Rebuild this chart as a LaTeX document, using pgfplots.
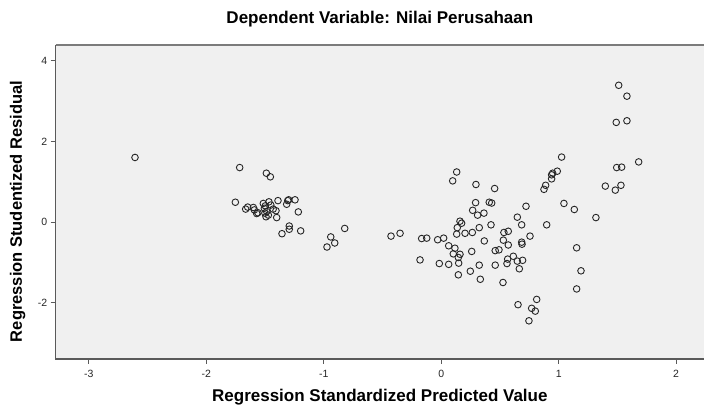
\documentclass[border=0pt]{standalone}
\usepackage{fontspec}
\setmainfont{Liberation Sans}
\usepackage{pgfplots}
\pgfplotsset{compat=1.18}
\definecolor{bg}{HTML}{F0F0F0}
\definecolor{frame}{HTML}{5A5A5A}
\pgfplotstableread{
x y
-2.606 1.60
-1.715 1.35
-1.488 1.21
-1.454 1.12
-1.752 0.49
-1.664 0.32
-1.647 0.37
-1.599 0.36
-1.590 0.30
-1.570 0.21
-1.560 0.23
-1.514 0.46
-1.497 0.40
-1.505 0.34
-1.466 0.50
-1.485 0.26
-1.471 0.17
-1.491 0.13
-1.500 0.22
-1.450 0.42
-1.430 0.32
-1.406 0.28
-1.400 0.11
-1.389 0.53
-1.306 0.53
-1.298 0.55
-1.315 0.44
-1.244 0.55
-1.216 0.25
-1.293 -0.10
-1.293 -0.18
-1.355 -0.29
-1.196 -0.22
-0.821 -0.16
-0.940 -0.37
-0.906 -0.52
-0.972 -0.62
-0.427 -0.35
-0.350 -0.28
0.132 1.24
0.098 1.02
0.296 0.93
0.455 0.83
0.293 0.48
0.409 0.49
0.430 0.47
0.268 0.29
0.310 0.17
0.364 0.22
0.722 0.39
0.648 0.12
0.685 -0.07
0.898 -0.07
-0.166 -0.41
-0.123 -0.40
-0.030 -0.44
0.021 -0.40
0.160 0.02
0.174 -0.03
0.137 -0.14
0.132 -0.30
0.203 -0.28
0.265 -0.26
0.324 -0.14
0.424 -0.07
0.534 -0.26
0.571 -0.23
0.367 -0.47
0.529 -0.45
0.685 -0.50
0.756 -0.35
0.064 -0.59
0.117 -0.65
0.260 -0.73
0.103 -0.79
0.160 -0.80
0.146 -0.88
0.149 -1.02
-0.180 -0.94
-0.016 -1.03
0.064 -1.05
0.146 -1.31
0.248 -1.22
0.324 -1.07
0.333 -1.42
0.460 -1.07
0.460 -0.71
0.492 -0.69
0.571 -0.57
0.688 -0.55
0.560 -1.03
0.566 -0.92
0.614 -0.85
0.648 -0.97
0.693 -0.95
0.665 -1.16
0.526 -1.50
0.654 -2.05
0.813 -1.92
0.770 -2.14
0.801 -2.21
0.747 -2.45
1.025 1.61
0.988 1.26
0.949 1.21
0.940 1.17
0.940 1.07
0.889 0.91
0.875 0.81
1.045 0.46
1.133 0.31
1.317 0.11
1.397 0.89
1.482 0.79
1.530 0.91
1.494 1.35
1.536 1.36
1.681 1.49
1.511 3.39
1.581 3.12
1.490 2.47
1.581 2.51
1.153 -0.64
1.190 -1.21
1.153 -1.66
}\resid
\begin{document}
\begin{tikzpicture}
\begin{axis}[name=ax,
  scale only axis, width=648.3pt, height=314pt,
  xmin=-3.281, xmax=2.237, ymin=-3.397, ymax=4.389,
  axis background/.style={fill=bg},
  axis line style={draw=none},
  clip=false,
  xtick={-3,-2,-1,0,1,2}, xticklabels={-3,-2,-1,0,1,2},
  ytick={-2,0,2,4}, yticklabels={-2,0,2,4},
  tick align=outside, xtick pos=bottom, ytick pos=left,
  major tick length=5pt,
  tick style={draw=frame, line width=0.9pt},
  ticklabel style={font=\fontsize{10.5}{12}\selectfont, text=black!85},
  xticklabel style={yshift=-3pt},
  title={Dependent Variable: Nilai Perusahaan},
  title style={at={(axis description cs:0.5,1.064)}, anchor=center, font=\bfseries\fontsize{17}{19}\selectfont},
  xlabel={Regression Standardized Predicted Value},
  xlabel style={at={(axis description cs:0.5,-0.121)}, anchor=center, font=\bfseries\fontsize{17}{19}\selectfont},
  ylabel={Regression Studentized Residual},
  ylabel style={at={(axis description cs:-0.0586,0.47)}, anchor=center, font=\bfseries\fontsize{16.5}{19}\selectfont},
]
\addplot[only marks, mark=o, mark size=3.3pt, mark options={draw=black!85, line width=0.9pt}] table[x=x,y=y] {\resid};
\draw[frame!80, line width=1.2pt] (rel axis cs:0,1) -- (rel axis cs:1,1);
\draw[frame, line width=1.4pt] (rel axis cs:0,1) -- (rel axis cs:0,0) -- (rel axis cs:1,0);
\end{axis}
\pgfresetboundingbox
\path[use as bounding box] ([xshift=-55.7pt,yshift=-50pt]ax.south west) rectangle ([yshift=45pt]ax.north east);
\end{tikzpicture}
\end{document}
